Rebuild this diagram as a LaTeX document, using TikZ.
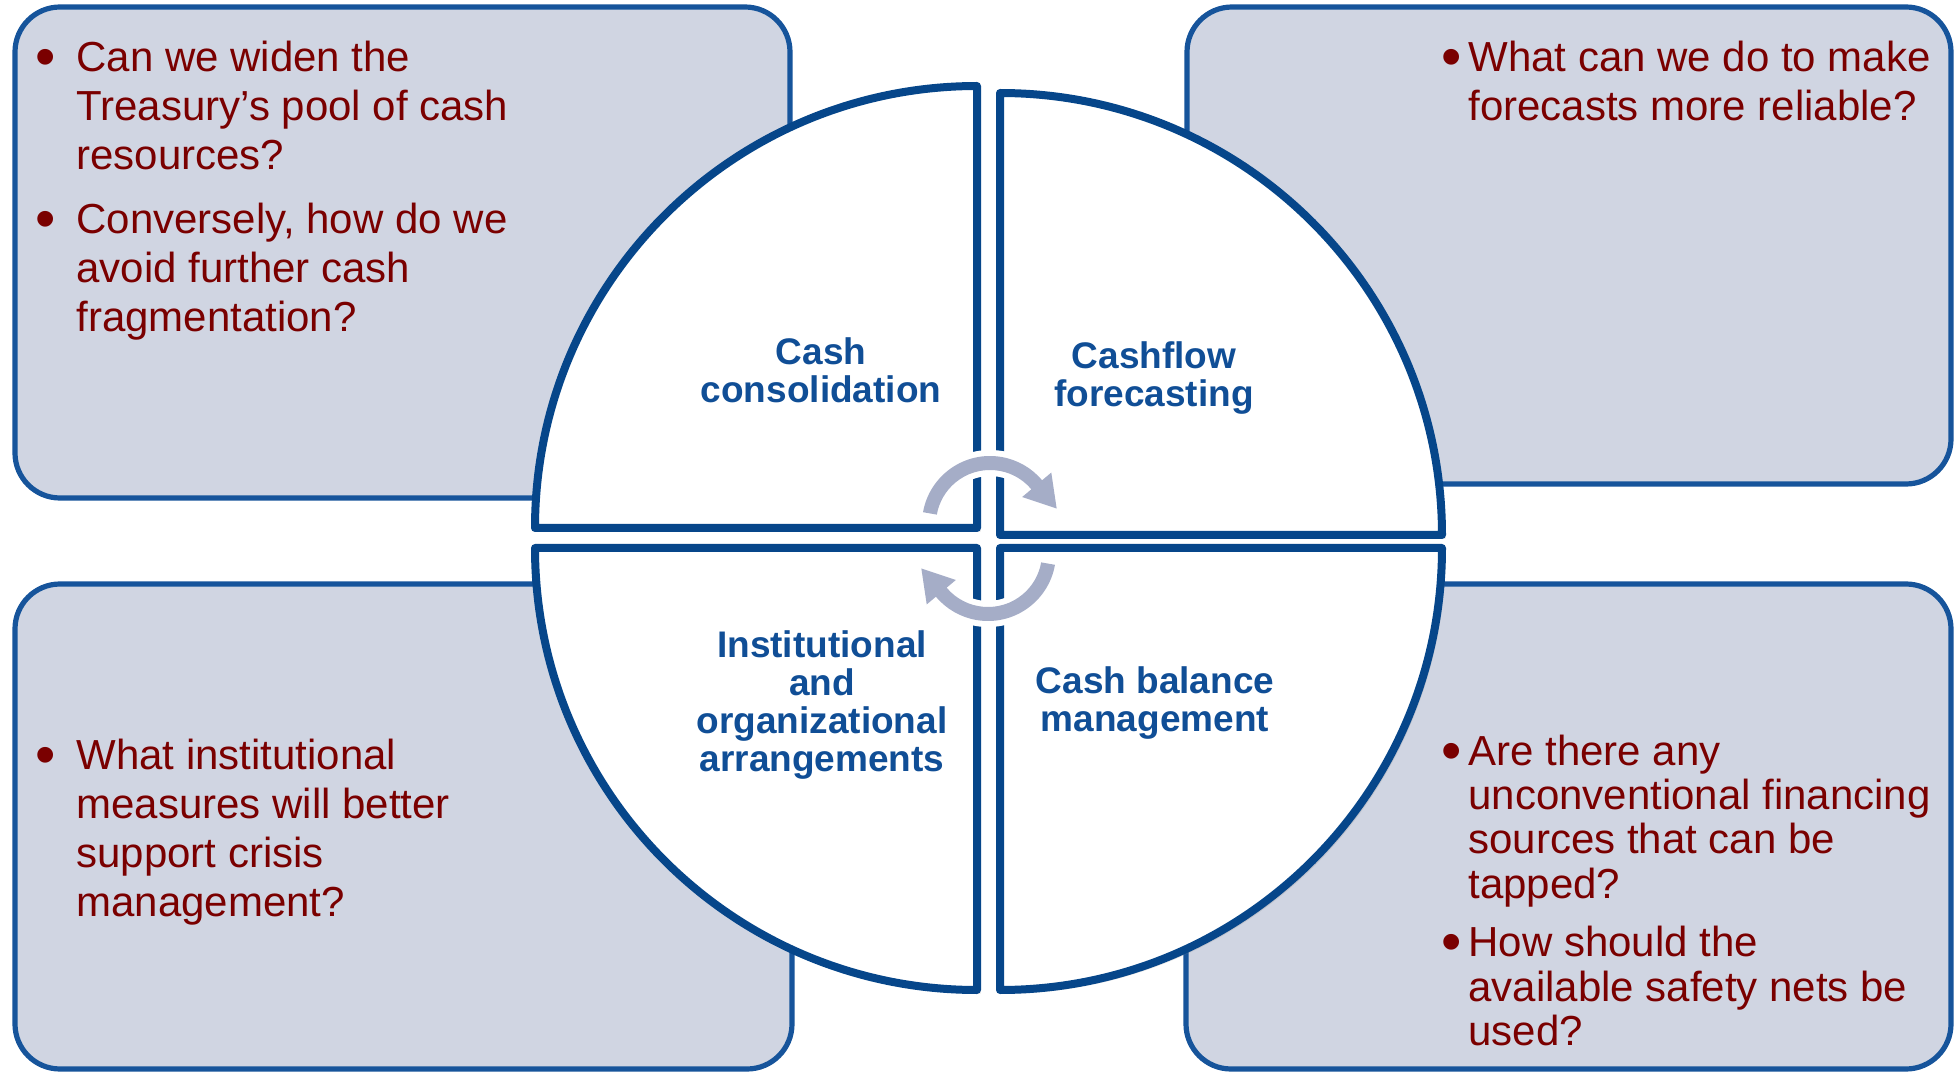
\documentclass[tikz,border=0pt]{standalone}
\usepackage{fontspec}
\setmainfont{Liberation Sans}
\usetikzlibrary{calc,shadows}
\definecolor{boxfill}{RGB}{208,213,226}
\definecolor{boxline}{RGB}{22,84,155}
\definecolor{ringline}{RGB}{6,70,138}
\definecolor{qred}{RGB}{122,0,0}
\definecolor{lblue}{RGB}{16,78,150}
\definecolor{arrgray}{RGB}{165,173,199}
\begin{document}
\begin{tikzpicture}[x=0.5pt,y=0.5pt,
  qbox/.style={fill=boxfill,draw=boxline,line width=2.6pt,rounded corners=22.5pt},
  quarter/.style={fill=white,draw=ringline,line width=4pt,line join=round,
    drop shadow={shadow xshift=1.8pt,shadow yshift=-1.8pt,opacity=0.22}},
  qtext/.style={font=\fontsize{21}{24.5}\selectfont,text=qred,inner sep=0pt},
  qtextb/.style={font=\fontsize{21}{22.25}\selectfont,text=qred,inner sep=0pt},
  bul/.style={font=\fontsize{29}{29}\selectfont,text=qred,inner sep=0pt,anchor=base,yshift=-2.6pt},
  lbl/.style={font=\fontsize{18.5}{19}\selectfont\bfseries,text=lblue,align=center,inner sep=0pt},
  cyc/.style={fill=arrgray,line join=round,
    drop shadow={shadow xshift=1.8pt,shadow yshift=-1.8pt,opacity=0.22},
    preaction={draw=white,line width=6pt,line join=round}}
]
\useasboundingbox (0,0) rectangle (1956,1073);
\fill[white] (0,0) rectangle (1956,1073);

% question boxes
\draw[qbox] (15,575) rectangle (790,1066);
\draw[qbox] (1187,589) rectangle (1951,1066);
\draw[qbox] (15,4) rectangle (792,489);
\draw[qbox] (1186,4) rectangle (1951,489);

% quarter pieces
\coordinate (P1) at (977,545);
\coordinate (P2) at (1000,538);
\coordinate (P3) at (977,525);
\coordinate (P4) at (1000,525);
\draw[quarter] (P1) -- ++(-442,0) arc[start angle=180,end angle=90,radius=442] -- cycle;
\draw[quarter] (P2) -- ++(0,442) arc[start angle=90,end angle=0,radius=442] -- cycle;
\draw[quarter] (P3) -- ++(0,-442) arc[start angle=270,end angle=180,radius=442] -- cycle;
\draw[quarter] (P4) -- ++(442,0) arc[start angle=0,end angle=-90,radius=442] -- cycle;

% cycle arrows
\coordinate (C1) at (990,549);
\coordinate (C2) at (988,520);
\path[cyc] ($(C1)+(170:68)$) arc[start angle=170,end angle=40,radius=68]
  -- ($(C1)+(40:80)$) -- ($(C1)+(40:61)+(-50:31)$) -- ($(C1)+(40:42)$)
  -- ($(C1)+(40:54)$) arc[start angle=40,end angle=170,radius=54] -- cycle;
\path[cyc] ($(C2)+(-10:68)$) arc[start angle=-10,end angle=-140,radius=68]
  -- ($(C2)+(-140:80)$) -- ($(C2)+(-140:61)+(130:31)$) -- ($(C2)+(-140:42)$)
  -- ($(C2)+(-140:54)$) arc[start angle=-140,end angle=-10,radius=54] -- cycle;

% quarter labels
\node[lbl] (l1) at (821,703) {Cash\\consolidation};
\node[lbl] (l2) at (1154,695) {Cashflow\\forecasting};
\node[lbl] (l3) at (822,368) {Institutional\\and\\organizational\\arrangements};
\node[lbl] (l4) at (1155,370) {Cash balance\\management};

% top-left questions
\node[bul] (b1) at (46,1001.5) {•};
\node[qtext,anchor=base west] (t1) at (76,1001.5) {\vtop{\hbox{Can we widen the}\hbox{Treasury’s pool of cash}\hbox{resources?}}};
\node[bul] (b2) at (46,839.5) {•};
\node[qtext,anchor=base west] (t2) at (76,839.5) {\vtop{\hbox{Conversely, how do we}\hbox{avoid further cash}\hbox{fragmentation?}}};

% top-right questions
\node[bul] (b3) at (1452,1001.5) {•};
\node[qtext,anchor=base west] (t3) at (1468,1001.5) {\vtop{\hbox{What can we do to make}\hbox{forecasts more reliable?}}};

% bottom-left questions
\node[bul] (b4) at (46,304) {•};
\node[qtext,anchor=base west] (t4) at (76,304) {\vtop{\hbox{What institutional}\hbox{measures will better}\hbox{support crisis}\hbox{management?}}};

% bottom-right questions
\node[bul] (b5) at (1452,308) {•};
\node[qtextb,anchor=base west] (t5) at (1468,308) {\vtop{\hbox{Are there any}\hbox{unconventional financing}\hbox{sources that can be}\hbox{tapped?}}};
\node[bul] (b6) at (1452,116.5) {•};
\node[qtextb,anchor=base west] (t6) at (1468,116.5) {\vtop{\hbox{How should the}\hbox{available safety nets be}\hbox{used?}}};
\end{tikzpicture}
\end{document}
